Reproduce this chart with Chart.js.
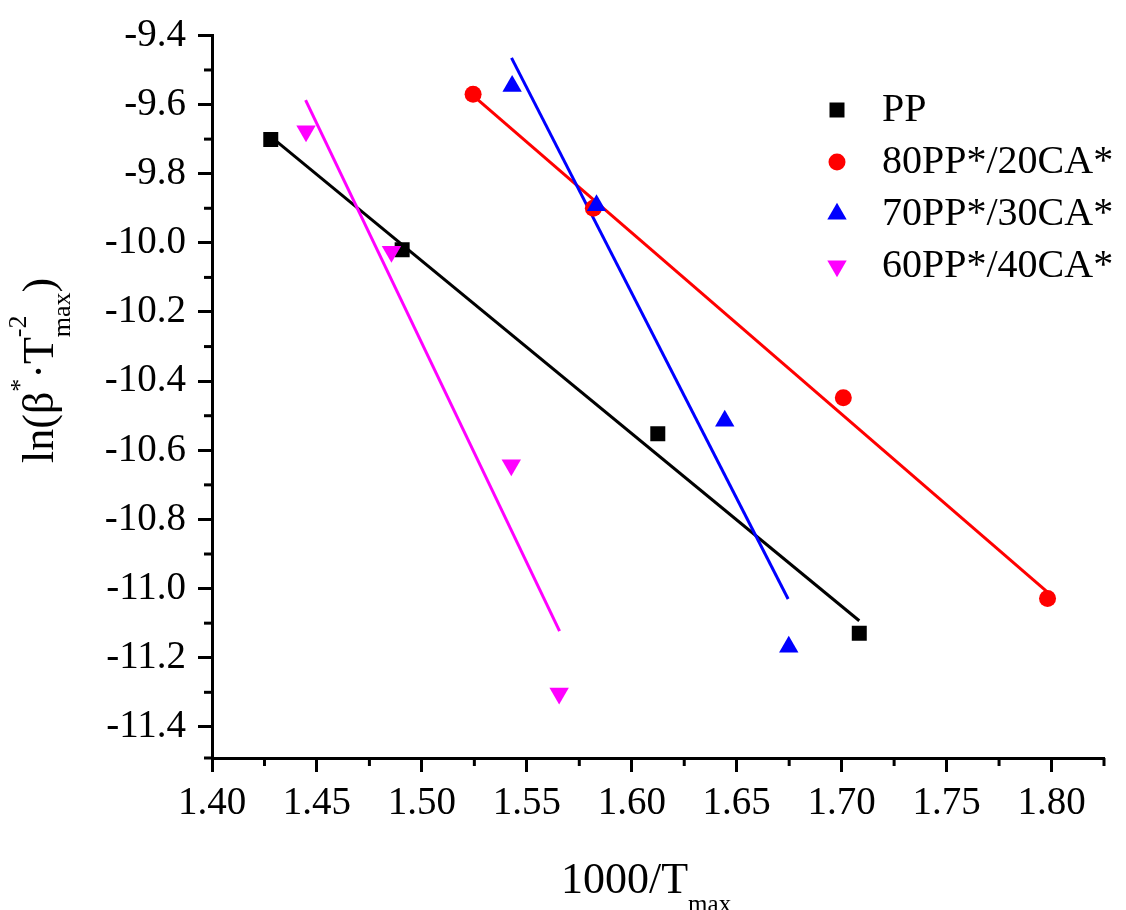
<!DOCTYPE html>
<html>
<head>
<meta charset="utf-8">
<script src="https://cdn.jsdelivr.net/npm/chart.js@4.4.1/dist/chart.umd.min.js"></script>
<style>
  body { margin: 0; background: #fff; }
  #wrap { width: 1126px; height: 910px; position: relative; }
</style>
</head>
<body>
<div id="wrap"><canvas id="myChart"></canvas></div>
<script>
// datos
const seriesNames = ['PP', '80PP*/20CA*', '70PP*/30CA*', '60PP*/40CA*'];

const ppX = [1.4280, 1.4906, 1.6124, 1.7084];
const ppY = [-9.701, -10.020, -10.552, -11.129];
const pp80X = [1.5244, 1.5817, 1.7008, 1.7981];
const pp80Y = [-9.570, -9.900, -10.448, -11.029];
const pp70X = [1.5430, 1.5832, 1.6443, 1.6748];
const pp70Y = [-9.547, -9.892, -10.515, -11.169];
const pp60X = [1.4448, 1.4855, 1.5426, 1.5654];
const pp60Y = [-9.677, -10.025, -10.643, -11.303];

// rectas de ajuste (extremos leidos)
const ppFitX = [1.4280, 1.7084];
const ppFitY = [-9.693, -11.093];
const pp80FitX = [1.5244, 1.7981];
const pp80FitY = [-9.574, -11.010];
const pp70FitX = [1.5427, 1.6745];
const pp70FitY = [-9.465, -11.030];
const pp60FitX = [1.4446, 1.5656];
const pp60FitY = [-9.587, -11.123];

// ticks
const xTicks = [1.40, 1.45, 1.50, 1.55, 1.60, 1.65, 1.70, 1.75, 1.80];
const xMinor = [1.425, 1.475, 1.525, 1.575, 1.625, 1.675, 1.725, 1.775, 1.825];
const yTicks = [-9.4, -9.6, -9.8, -10.0, -10.2, -10.4, -10.6, -10.8, -11.0, -11.2, -11.4];
const yMinor = [-9.5, -9.7, -9.9, -10.1, -10.3, -10.5, -10.7, -10.9, -11.1, -11.3, -11.49];

const FONT = 'Liberation Serif';
Chart.defaults.font.family = FONT;
Chart.defaults.color = '#000';

const colors = ['#000000', '#ff0000', '#0000ff', '#ff00ff'];
const markers = [
  { pointStyle: 'rect', radius: 10.6, rotation: 0 },
  { pointStyle: 'circle', radius: 8.5, rotation: 0 },
  { pointStyle: 'triangle', radius: 11.2, rotation: 0 },
  { pointStyle: 'triangle', radius: 11.2, rotation: 180 }
];

const toPoints = (xs, ys) => xs.map((x, i) => ({ x: x, y: ys[i] }));

const puntos = [
  toPoints(ppX, ppY), toPoints(pp80X, pp80Y), toPoints(pp70X, pp70Y), toPoints(pp60X, pp60Y)
];
const ajustes = [
  toPoints(ppFitX, ppFitY), toPoints(pp80FitX, pp80FitY), toPoints(pp70FitX, pp70FitY), toPoints(pp60FitX, pp60FitY)
];

// orden de dibujo: el primero queda arriba
const drawOrder = [3, 2, 1, 0];
const datasets = [];
drawOrder.forEach(i => {
  datasets.push({
    label: seriesNames[i],
    data: puntos[i],
    showLine: false,
    order: 0,
    pointStyle: markers[i].pointStyle,
    pointRadius: markers[i].radius,
    pointRotation: markers[i].rotation,
    pointBackgroundColor: colors[i],
    pointBorderWidth: 0,
    pointHoverRadius: markers[i].radius
  });
});
drawOrder.forEach(i => {
  datasets.push({
    label: seriesNames[i] + ' fit',
    data: ajustes[i],
    showLine: true,
    order: 1,
    borderColor: colors[i],
    borderWidth: 3,
    pointRadius: 0,
    pointHoverRadius: 0
  });
});

function drawRich(ctx, parts, x, y) {
  let cx = x;
  parts.forEach(p => {
    ctx.font = p.size + 'px "' + FONT + '"';
    ctx.fillText(p.text, cx, y - (p.rise || 0));
    if (!p.stack) cx += ctx.measureText(p.text).width;
  });
}

function drawMarker(ctx, m, color, x, y) {
  const opts = { pointStyle: m.pointStyle, radius: m.radius, rotation: m.rotation, borderWidth: 0 };
  ctx.fillStyle = color;
  ctx.strokeStyle = color;
  ctx.lineWidth = 0;
  Chart.helpers.drawPoint(ctx, opts, x, y);
}

const extras = {
  id: 'extras',
  afterDraw(chart) {
    const ctx = chart.ctx;
    const xs = chart.scales.x;
    const ys = chart.scales.y;
    const area = chart.chartArea;
    ctx.save();

    // ticks menores
    ctx.strokeStyle = '#000';
    ctx.lineWidth = 3;
    xMinor.forEach(v => {
      const px = xs.getPixelForValue(v);
      ctx.beginPath();
      ctx.moveTo(px, area.bottom);
      ctx.lineTo(px, area.bottom + 8);
      ctx.stroke();
    });
    yMinor.forEach(v => {
      const py = ys.getPixelForValue(v);
      ctx.beginPath();
      ctx.moveTo(area.left, py);
      ctx.lineTo(area.left - 8, py);
      ctx.stroke();
    });

    // titulo eje x
    ctx.fillStyle = '#000';
    ctx.textAlign = 'left';
    ctx.textBaseline = 'alphabetic';
    drawRich(ctx, [
      { text: '1000/T', size: 44 },
      { text: 'max', size: 25, rise: -19 }
    ], 561, 893);

    // titulo eje y
    ctx.save();
    ctx.translate(53, 463);
    ctx.rotate(-Math.PI / 2);
    drawRich(ctx, [
      { text: 'ln(\u03B2', size: 44 },
      { text: '*', size: 26, rise: 25 },
      { text: '\u00B7', size: 44 },
      { text: 'T', size: 44 },
      { text: '-2', size: 26, rise: 27, stack: true },
      { text: 'max', size: 26, rise: -17 },
      { text: ')', size: 44 }
    ], 0, 0);
    ctx.restore();

    // leyenda
    const legendY = [110, 162, 214, 266];
    seriesNames.forEach((name, i) => {
      drawMarker(ctx, markers[i], colors[i], 837, legendY[i]);
      ctx.fillStyle = '#000';
      ctx.font = '40px "' + FONT + '"';
      ctx.textAlign = 'left';
      ctx.textBaseline = 'alphabetic';
      ctx.fillText(name, 882, legendY[i] + 11);
    });

    ctx.restore();
  }
};

const ctx = document.getElementById('myChart');
new Chart(ctx, {
  type: 'scatter',
  data: { datasets: datasets },
  options: {
    responsive: true,
    maintainAspectRatio: false,
    animation: false,
    events: [],
    layout: { padding: { left: 0, top: 33, right: 22, bottom: 0 } },
    plugins: {
      legend: { display: false },
      tooltip: { enabled: false }
    },
    scales: {
      x: {
        type: 'linear',
        min: 1.40,
        max: 1.825,
        afterBuildTicks: scale => { scale.ticks = xTicks.map(v => ({ value: v })); },
        afterFit: scale => { scale.height = 152; },
        border: { display: true, color: '#000', width: 3 },
        grid: { drawOnChartArea: false, drawTicks: true, tickLength: 14, tickWidth: 3, tickColor: '#000' },
        ticks: {
          color: '#000',
          font: { family: FONT, size: 39 },
          padding: 8,
          maxRotation: 0,
          autoSkip: false,
          callback: v => Number(v).toFixed(2)
        }
      },
      y: {
        type: 'linear',
        min: -11.49,
        max: -9.4,
        afterBuildTicks: scale => { scale.ticks = yTicks.map(v => ({ value: v })); },
        afterFit: scale => { scale.width = 212; },
        border: { display: true, color: '#000', width: 3 },
        grid: { drawOnChartArea: false, drawTicks: true, tickLength: 14, tickWidth: 3, tickColor: '#000' },
        ticks: {
          color: '#000',
          font: { family: FONT, size: 39 },
          padding: 12,
          autoSkip: false,
          callback: v => Number(v).toFixed(1)
        }
      }
    }
  },
  plugins: [extras]
});
</script>
</body>
</html>
